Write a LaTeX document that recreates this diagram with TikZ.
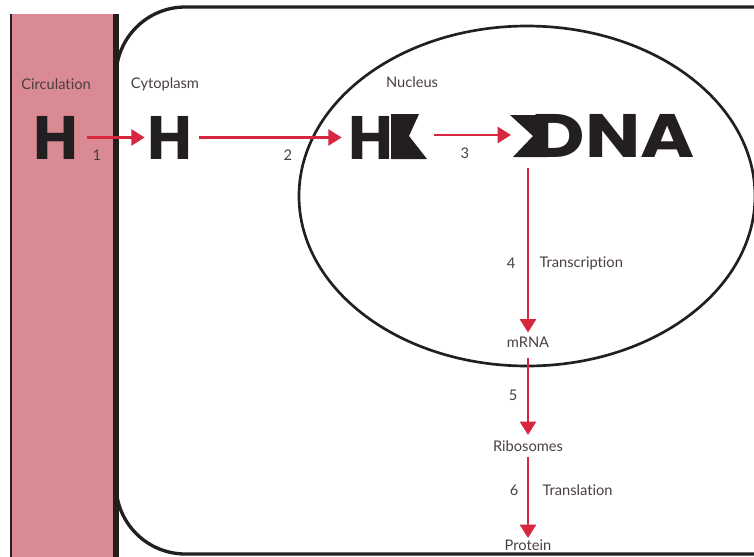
\documentclass[tikz,border=0pt]{standalone}
\usepackage{fontspec}
\setmainfont{Lato}[Ligatures=NoCommon]
\newfontfamily\bigfont{Poppins}
\usetikzlibrary{arrows.meta}
\definecolor{hred}{HTML}{D7263D}
\definecolor{blood}{HTML}{D98A93}
\definecolor{ink}{HTML}{231F20}
\definecolor{tagtext}{HTML}{4A3F3F}
\begin{document}
\begin{tikzpicture}[x=0.75pt,y=-0.75pt,
	tag/.style={text=tagtext,font=\fontsize{11}{13}\selectfont,inner sep=1pt},
	big/.style={text=ink,font=\bigfont\bfseries\fontsize{46}{50}\selectfont,inner sep=2pt,text depth=0pt},
	flow/.style={hred,line width=2pt,-{Triangle[length=10pt,width=12pt]}}]
\useasboundingbox (0,0) rectangle (754,557);
% circulation strip
\fill[blood] (12,14) rectangle (116,560);
\draw[ink,line width=2pt] (11,14) -- (11,560);
% cell
\draw[ink,line width=2.5pt,rounded corners=52pt] (780,7) -- (116,7) -- (116,554) -- (780,554);
\draw[ink,line width=4pt] (116,14) -- (116,560);
% nucleus
\draw[ink,line width=2pt] (527,196) ellipse [x radius=171pt, y radius=127.5pt];
\node[tag] (circ) at (56,84) {Circulation};
\node[tag] (cyto) at (165,84) {Cytoplasm};
\node[tag] (nuc) at (412,82) {Nucleus};
% hormone and receptor
\node[big,anchor=base] (h1) at (56,159) {H};
\node[big,anchor=base] (h2) at (170,159) {H};
\node[big,anchor=base] (h3) at (371,159) {H};
\fill[ink] (391,114) -- (419,114) -- (409,136) -- (427,159) -- (391,159) -- cycle;
\node[big,anchor=base west,xscale=1.2] (dna) at (528,157) {DNA};
\fill[ink] (510,115) -- (548,115) -- (548,157) -- (513,157) -- (533,136) -- cycle;
\coordinate (rtip) at (434,135);
\coordinate (dnotch) at (511,135);
\coordinate (dnaout) at (528,168);
\node[tag] (mrna) at (528,342) {mRNA};
\node[tag] (ribo) at (528,446) {Ribosomes};
\node[tag] (prot) at (528,545) {Protein};
% steps
\draw[flow,shorten <=4pt] (h1.east) -- (h2.west);
\draw[flow,shorten <=3pt,shorten >=3pt] (h2.east) -- (h3.west);
\draw[flow] (rtip) -- (dnotch);
\draw[flow,shorten >=2pt] (dnaout) -- (mrna);
\draw[flow,shorten <=7pt,shorten >=3pt] (mrna) -- (ribo);
\draw[flow,shorten <=3pt] (ribo) -- (prot);
\node[tag] (n1) at (97,155) {1};
\node[tag] (n2) at (288,155) {2};
\node[tag] (n3) at (465,153) {3};
\node[tag] (n4) at (511,263) {4};
\node[tag,anchor=west] (trc) at (538,263) {Transcription};
\node[tag] (n5) at (513,395) {5};
\node[tag] (n6) at (514,490) {6};
\node[tag,anchor=west] (trl) at (541,490) {Translation};
\end{tikzpicture}
\end{document}
